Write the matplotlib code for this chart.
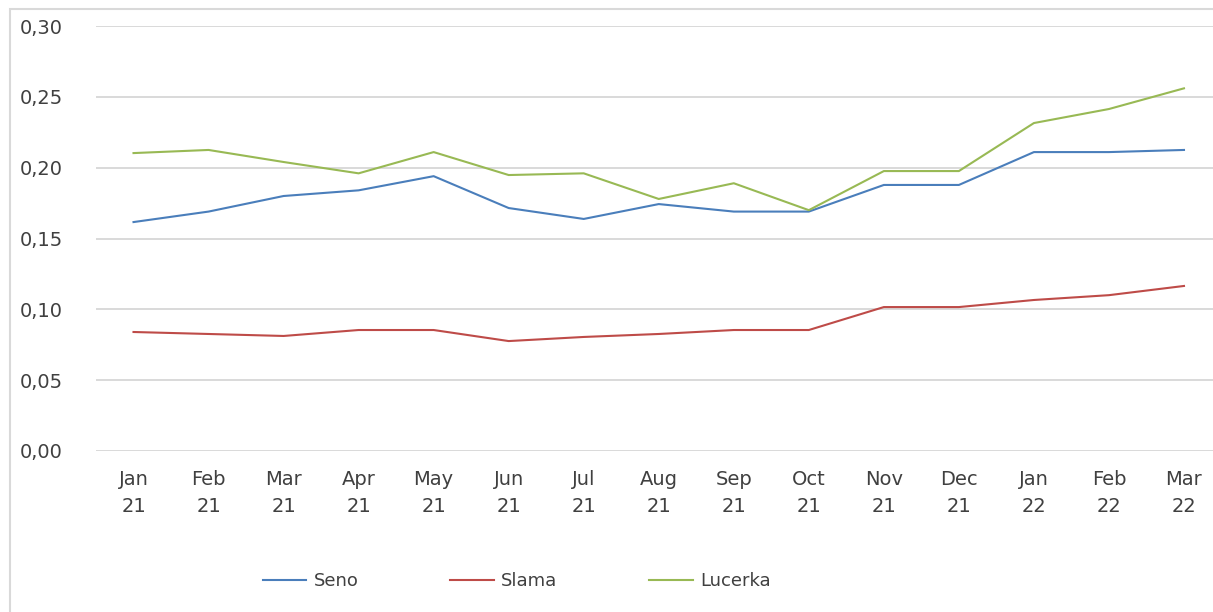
import matplotlib
matplotlib.use('Agg')
import matplotlib.pyplot as plt
from matplotlib.patches import Rectangle
from matplotlib.ticker import FuncFormatter

months = ['Jan\n21', 'Feb\n21', 'Mar\n21', 'Apr\n21', 'May\n21', 'Jun\n21', 'Jul\n21', 'Aug\n21',
          'Sep\n21', 'Oct\n21', 'Nov\n21', 'Dec\n21', 'Jan\n22', 'Feb\n22', 'Mar\n22']
seno = [0.1616, 0.169, 0.180, 0.184, 0.194, 0.1715, 0.1638, 0.1743, 0.169, 0.169,
        0.1878, 0.1878, 0.211, 0.211, 0.2125]
slama = [0.084, 0.0826, 0.0812, 0.0854, 0.0854, 0.0776, 0.0805, 0.0826, 0.0854, 0.0854,
         0.1016, 0.1016, 0.1066, 0.110, 0.1165]
lucerka = [0.2103, 0.2125, 0.204, 0.196, 0.211, 0.1948, 0.196, 0.1779, 0.189, 0.170,
           0.1976, 0.1976, 0.2315, 0.2414, 0.256]
yticks = [0.0, 0.05, 0.10, 0.15, 0.20, 0.25, 0.30]

TXT = '#404040'
plt.rcParams['font.family'] = ['DejaVu Sans']

fig = plt.figure(figsize=(12.13, 6.12), dpi=100)
# chart border (light gray frame, cut off on right/bottom)
fig.patches.append(Rectangle((10/1213, -0.1), 1.2, 1 - 9/612 + 0.1, transform=fig.transFigure,
                             fill=False, edgecolor='#d9d9d9', linewidth=1.5))

ax = fig.add_axes([96/1213, 1 - 451/612, (1221.5 - 96)/1213, (451 - 26)/612])
x = list(range(len(months)))
ax.plot(x, seno, color='#4a7ebb', lw=1.5, label='Seno')
ax.plot(x, slama, color='#be4b48', lw=1.5, label='Slama')
ax.plot(x, lucerka, color='#98b954', lw=1.5, label='Lucerka')

ax.set_xlim(-0.5, len(months) - 0.5)
ax.set_ylim(0, 0.30)
ax.set_yticks(yticks)
ax.yaxis.set_major_formatter(FuncFormatter(lambda v, p: ('%.2f' % v).replace('.', ',')))
ax.set_xticks(x)
ax.set_xticklabels(months, linespacing=1.5)
ax.grid(axis='y', color='#d9d9d9', lw=1.4)
ax.set_axisbelow(True)
for s in ax.spines.values():
    s.set_visible(False)
ax.tick_params(axis='both', length=0, colors=TXT, labelsize=14)
ax.tick_params(axis='y', pad=24)
ax.tick_params(axis='x', pad=14)

fig.legend(loc='center', bbox_to_anchor=(0.426, 1 - 581/612), ncol=3, frameon=False,
           fontsize=13, labelcolor=TXT, handlelength=2.4, handletextpad=0.4,
           columnspacing=5.1)

fig.savefig('out.png', dpi=100)
